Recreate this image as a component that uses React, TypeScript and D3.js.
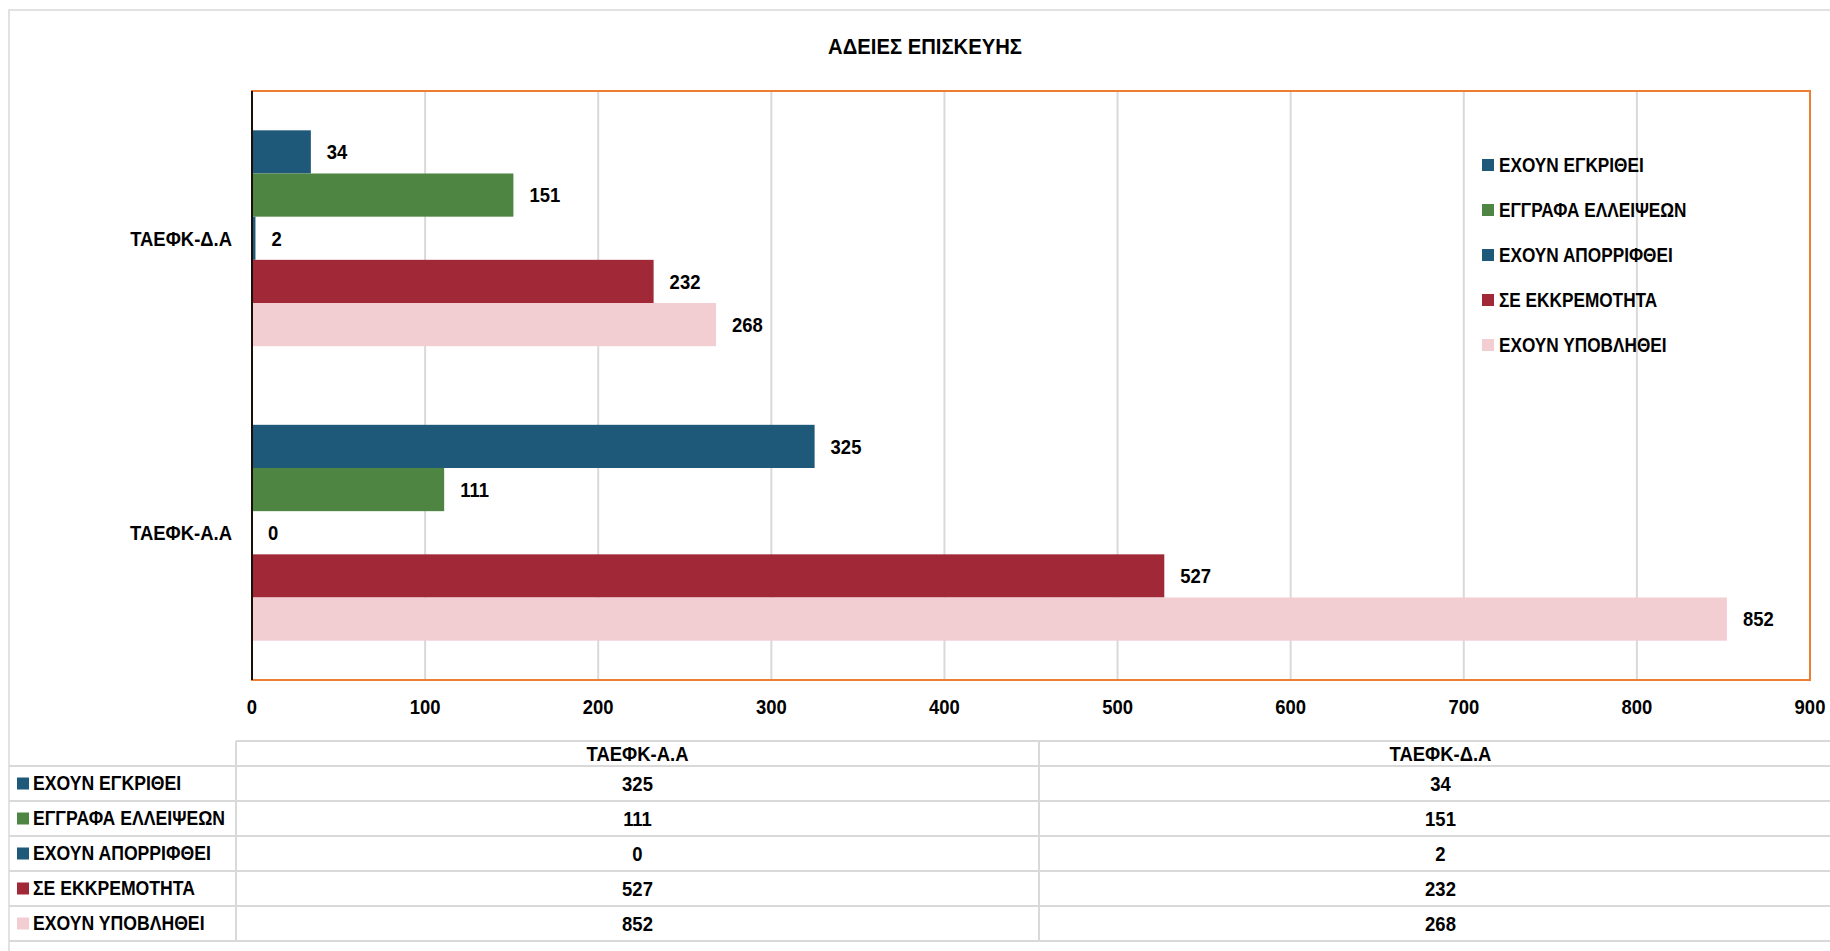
import React from 'react';
import * as d3 from 'd3';

// data
const categories = ['ΤΑΕΦΚ-Α.Α', 'ΤΑΕΦΚ-Δ.Α'];
const seriesNames = ['ΕΧΟΥΝ ΕΓΚΡΙΘΕΙ', 'ΕΓΓΡΑΦΑ ΕΛΛΕΙΨΕΩΝ', 'ΕΧΟΥΝ ΑΠΟΡΡΙΦΘΕΙ', 'ΣΕ ΕΚΚΡΕΜΟΤΗΤΑ', 'ΕΧΟΥΝ ΥΠΟΒΛΗΘΕΙ'];
const seriesColors = ['#1F5979', '#4F8543', '#1F5979', '#A12937', '#F2CDD2'];
const valuesAA = [325, 111, 0, 527, 852];
const valuesDA = [34, 151, 2, 232, 268];
const xTicks = [0, 100, 200, 300, 400, 500, 600, 700, 800, 900];
const title = 'ΑΔΕΙΕΣ ΕΠΙΣΚΕΥΗΣ';

// no calibri here, so squeeze liberation sans a bit
const FONT = "'Liberation Sans', Arial, sans-serif";
const W = 1830, H = 951;
const plot = { left: 252, right: 1810, top: 91, bottom: 680 };
const table = { top: 741, header: 766, rowH: 35, left: 9, col0: 236, col1: 1039, col2: 1842 };

const valuesByCat: Record<string, number[]> = {
  'ΤΑΕΦΚ-Α.Α': valuesAA,
  'ΤΑΕΦΚ-Δ.Α': valuesDA,
};

type LabelProps = {
  x: number; y: number; anchor?: 'start' | 'middle' | 'end';
  size?: number; squeeze?: number; children: React.ReactNode;
};

const Label = ({ x, y, anchor = 'start', size = 20.5, squeeze = 0.9, children }: LabelProps) => (
  <g transform={`translate(${x},${y}) scale(${squeeze},1)`}>
    <text textAnchor={anchor} dominantBaseline="central"
      style={{ fontFamily: FONT, fontWeight: 700, fontSize: size }} fill="#000">{children}</text>
  </g>
);

const App = () => {
  const x = d3.scaleLinear().domain([0, 900]).range([plot.left, plot.right]);
  // excel draws the last category on top
  const y = d3.scaleBand<string>()
    .domain([...categories].reverse())
    .range([plot.top, plot.bottom])
    .paddingInner(0.267)
    .paddingOuter(0.1335);
  const ys = d3.scaleBand<string>().domain(seriesNames).range([0, y.bandwidth()]);
  const nRows = seriesNames.length;

  return (
    <svg width={W} height={H} style={{ position: 'absolute', left: 0, top: 0, background: '#fff' }}>
      <rect x={9} y={10} width={W + 20} height={H + 20} fill="#fff" stroke="#D9D9D9" strokeWidth={1.5} />

      <Label x={925} y={47} anchor="middle" size={22.5}>{title}</Label>

      {/* gridlines */}
      {xTicks.map(t => (
        <line key={t} x1={x(t)} x2={x(t)} y1={plot.top} y2={plot.bottom} stroke="#D9D9D9" strokeWidth={2} />
      ))}

      {/* bars */}
      {categories.map(c => (
        <g key={c} transform={`translate(0,${y(c)})`}>
          {seriesNames.map((s, i) => {
            const v = valuesByCat[c][i];
            const by = ys(s) as number;
            return (
              <g key={s}>
                <rect x={x(0)} y={by} width={x(v) - x(0)} height={ys.bandwidth()} fill={seriesColors[i]} />
                <Label x={x(v) + 16} y={by + ys.bandwidth() / 2}>{v}</Label>
              </g>
            );
          })}
        </g>
      ))}

      {/* plot border + axis */}
      <rect x={plot.left} y={plot.top} width={plot.right - plot.left} height={plot.bottom - plot.top}
        fill="none" stroke="#ED7D31" strokeWidth={2} />
      <line x1={plot.left} x2={plot.left} y1={plot.top} y2={plot.bottom} stroke="#1A1008" strokeWidth={2} />

      {/* category labels */}
      {categories.map(c => (
        <Label key={c} x={232} y={(y(c) as number) + y.bandwidth() / 2} anchor="end">{c}</Label>
      ))}

      {/* x tick labels */}
      {xTicks.map(t => (
        <Label key={t} x={x(t)} y={707} anchor="middle">{t}</Label>
      ))}

      {/* legend */}
      {seriesNames.map((s, i) => (
        <g key={s} transform={`translate(1482,${165 + i * 45})`}>
          <rect x={0} y={-6} width={12} height={12} fill={seriesColors[i]} />
          <Label x={17} y={0} squeeze={0.84}>{s}</Label>
        </g>
      ))}

      {/* data table */}
      <g stroke="#D9D9D9" strokeWidth={2}>
        <line x1={table.col0} x2={W} y1={table.top} y2={table.top} />
        {d3.range(nRows + 1).map(i => (
          <line key={i} x1={table.left} x2={W} y1={table.header + i * table.rowH} y2={table.header + i * table.rowH} />
        ))}
        <line x1={table.col0} x2={table.col0} y1={table.top} y2={table.header + nRows * table.rowH} />
        <line x1={table.col1} x2={table.col1} y1={table.top} y2={table.header + nRows * table.rowH} />
      </g>
      {categories.map((c, ci) => {
        const cx = ci === 0 ? (table.col0 + table.col1) / 2 : (table.col1 + table.col2) / 2;
        return (
          <g key={c}>
            <Label x={cx} y={(table.top + table.header) / 2} anchor="middle">{c}</Label>
            {seriesNames.map((s, i) => (
              <Label key={s} x={cx} y={table.header + i * table.rowH + table.rowH / 2} anchor="middle">
                {valuesByCat[c][i]}
              </Label>
            ))}
          </g>
        );
      })}
      {seriesNames.map((s, i) => (
        <g key={s} transform={`translate(17,${table.header + i * table.rowH + table.rowH / 2})`}>
          <rect x={0} y={-6} width={12} height={12} fill={seriesColors[i]} />
          <Label x={16} y={0} squeeze={0.86}>{s}</Label>
        </g>
      ))}
    </svg>
  );
};

export default App;
